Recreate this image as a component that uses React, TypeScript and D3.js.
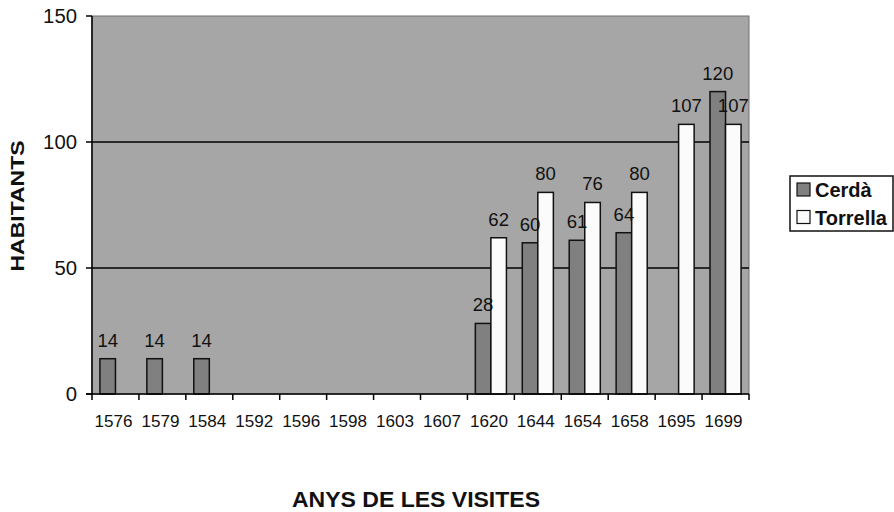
import React from "react";
import * as d3 from "d3";

const years = ["1576", "1579", "1584", "1592", "1596", "1598", "1603", "1607", "1620", "1644", "1654", "1658", "1695", "1699"];
const cerda: (number | null)[] = [14, 14, 14, null, null, null, null, null, 28, 60, 61, 64, null, 120];
const torrella: (number | null)[] = [null, null, null, null, null, null, null, null, 62, 80, 76, 80, 107, 107];
const seriesNames = ["Cerdà", "Torrella"];
const seriesColors = ["#808080", "#fbfbfb"];
const yTicks = [0, 50, 100, 150];

const W = 894;
const H = 512;
const left = 92;
const right = 749;
const top = 16;
const bottom = 394;
const font = "'Liberation Sans', Arial, sans-serif";

export default function App() {
  const x = d3.scaleBand<string>().domain(years).range([left, right]).paddingInner(0).paddingOuter(0);
  const inner = d3.scaleBand<string>().domain(seriesNames).range([0, x.bandwidth()]).paddingInner(0).paddingOuter(0.51);
  const y = d3.scaleLinear().domain([0, 150]).range([bottom, top]);
  const series = [cerda, torrella];

  return (
    <svg width={W} height={H} style={{ position: "absolute", left: 0, top: 0, fontFamily: font }}>
      <rect x={0} y={0} width={W} height={H} fill="#ffffff" />
      <rect x={left} y={top} width={right - left} height={bottom - top} fill="#a6a6a6" stroke="#707070" strokeWidth={1} />
      {yTicks.filter((t) => t > 0 && t < 150).map((t) => (
        <line key={"g" + t} x1={left} x2={right} y1={y(t)} y2={y(t)} stroke="#000" strokeWidth={1.5} />
      ))}
      {series.map((vals, si) =>
        vals.map((v, i) =>
          v == null ? null : (
            <rect
              key={`b${si}-${i}`}
              x={(x(years[i]) as number) + (inner(seriesNames[si]) as number)}
              y={y(v)}
              width={inner.bandwidth()}
              height={y(0) - y(v)}
              fill={seriesColors[si]}
              stroke="#111"
              strokeWidth={1.5}
            />
          )
        )
      )}
      {series.map((vals, si) =>
        vals.map((v, i) =>
          v == null ? null : (
            <text
              key={`l${si}-${i}`}
              x={(x(years[i]) as number) + (inner(seriesNames[si]) as number) + inner.bandwidth() / 2}
              y={y(v) - 12}
              textAnchor="middle"
              fontSize={19}
              fill="#111"
              textLength={String(v).length * 10.3}
              lengthAdjust="spacingAndGlyphs"
            >
              {v}
            </text>
          )
        )
      )}
      {/* axes */}
      <line x1={left} x2={left} y1={top} y2={bottom} stroke="#000" strokeWidth={1.5} />
      <line x1={left - 6} x2={right} y1={bottom} y2={bottom} stroke="#000" strokeWidth={1.5} />
      {yTicks.map((t) => (
        <g key={"yt" + t}>
          <line x1={left - 6} x2={left} y1={y(t)} y2={y(t)} stroke="#000" strokeWidth={1.5} />
          <text
            x={left - 15}
            y={y(t) + 7}
            textAnchor="end"
            fontSize={20}
            fill="#111"
            textLength={String(t).length * 11.3}
            lengthAdjust="spacingAndGlyphs"
          >
            {t}
          </text>
        </g>
      ))}
      {years.map((yr, i) => (
        <line
          key={"xt" + i}
          x1={x(yr) as number}
          x2={x(yr) as number}
          y1={bottom}
          y2={bottom + 6}
          stroke="#000"
          strokeWidth={1.5}
        />
      ))}
      <line x1={right} x2={right} y1={bottom} y2={bottom + 6} stroke="#000" strokeWidth={1.5} />
      {years.map((yr) => (
        <text
          key={"xl" + yr}
          x={(x(yr) as number) + x.bandwidth() / 2 - 2}
          y={427}
          textAnchor="middle"
          fontSize={17}
          fill="#111"
          textLength={38}
          lengthAdjust="spacingAndGlyphs"
        >
          {yr}
        </text>
      ))}
      {/* axis titles */}
      <text
        transform={`translate(24, 206) rotate(-90)`}
        textAnchor="middle"
        fontSize={19}
        fontWeight={900}
        fill="#111"
        textLength={131}
        lengthAdjust="spacingAndGlyphs"
      >
        HABITANTS
      </text>
      <text x={416} y={507} textAnchor="middle" fontSize={22} fontWeight="bold" fill="#111" textLength={248} lengthAdjust="spacingAndGlyphs">
        ANYS DE LES VISITES
      </text>
      {/* legend */}
      <rect x={790} y={176} width={103} height={55} fill="#fff" stroke="#111" strokeWidth={1.5} />
      {seriesNames.map((n, i) => (
        <g key={"lg" + n}>
          <rect x={797} y={183 + i * 27.5} width={13} height={13} fill={seriesColors[i]} stroke="#111" strokeWidth={1.2} />
          <text x={815} y={197 + i * 27.5} fontSize={20} fontWeight="bold" fill="#111">
            {n}
          </text>
        </g>
      ))}
    </svg>
  );
}
